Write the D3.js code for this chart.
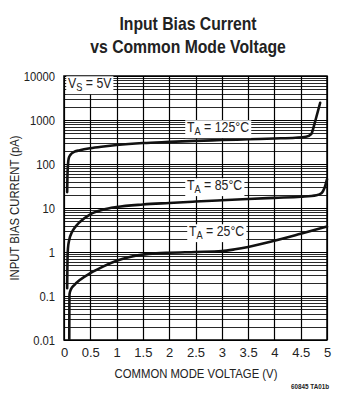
<!DOCTYPE html>
<html><head><meta charset="utf-8">
<script src="https://cdn.jsdelivr.net/npm/d3@7"></script>
<style>
html,body{margin:0;padding:0;background:#fff;}
svg{display:block;}
</style></head>
<body>
<script>
// ---- data ----
const xTicks = [0,0.5,1,1.5,2,2.5,3,3.5,4,4.5,5];
const xTickLabels = ["0","0.5","1","1.5","2","2.5","3","3.5","4","4.5","5"];
const yTicks = [0.01,0.1,1,10,100,1000,10000];
const yTickLabels = ["0.01","0.1","1","10","100","1000","10000"];
const seriesNames = ["TA = 125°C","TA = 85°C","TA = 25°C"];
const v125 = [[0.06,23],[0.065,50],[0.075,95],[0.09,135],[0.12,160],[0.2,190],[0.3,205],[0.5,228],[0.75,250],[1,270],[1.5,300],[2,318],[2.5,335],[3,350],[3.5,365],[4,380],[4.4,395],[4.6,415],[4.7,480],[4.76,800],[4.8,1200],[4.87,2450]];
const v85 = [[0.06,0.15],[0.065,0.5],[0.075,1.2],[0.1,1.9],[0.15,2.8],[0.2,3.5],[0.3,4.8],[0.5,7.2],[0.75,9.2],[1.0,10.5],[1.5,12],[2,13],[2.5,14],[3,15],[3.5,16],[4,17],[4.5,18],[4.8,19.5],[4.9,22],[4.95,28],[5.0,45]];
const v25 = [[0.1,0.01],[0.102,0.05],[0.105,0.11],[0.13,0.14],[0.2,0.18],[0.3,0.23],[0.5,0.33],[0.75,0.47],[1.0,0.63],[1.25,0.77],[1.5,0.87],[1.75,0.93],[2.0,0.96],[2.5,1.0],[3.0,1.05],[3.25,1.15],[3.5,1.3],[4.0,1.8],[4.5,2.6],[5.0,3.8]];

const W=339,H=393;
const m={l:64,t:76,r:12,b:53};
const pw=W-m.l-m.r, ph=H-m.t-m.b;
const font="'Liberation Sans',Arial,sans-serif";
const SX=0.88; // horizontal condensing

const svg=d3.select("body").append("svg").attr("width",W).attr("height",H);
const x=d3.scaleLinear().domain([0,5]).range([m.l,m.l+pw]);
const y=d3.scaleLog().domain([0.01,10000]).range([m.t+ph,m.t]);

function ctext(px,py,str,size,opts={}){
  const g=svg.append("g").attr("transform",`translate(${px},${py}) ${opts.rot?`rotate(${opts.rot})`:""} scale(${opts.sx||SX},1)`);
  return g.append("text").attr("x",0).attr("y",0).attr("text-anchor",opts.anchor||"middle")
    .attr("font-family",font).attr("font-size",size).attr("font-weight",opts.bold?"bold":"normal")
    .attr("fill","#222").text(str);
}

// title
ctext(188,30,"Input Bias Current",17.5,{bold:true,sx:0.9});
ctext(188,53,"vs Common Mode Voltage",17.5,{bold:true,sx:0.9});

// grid
const g=svg.append("g");
const minor=[];
for(let d=-2; d<4; d++) for(let k=2;k<10;k++) minor.push(k*Math.pow(10,d));
g.selectAll("line.mn").data(minor).join("line").attr("class","mn")
  .attr("x1",m.l).attr("x2",m.l+pw).attr("y1",d=>Math.round(y(d))+0.5).attr("y2",d=>Math.round(y(d))+0.5)
  .attr("stroke","#111").attr("stroke-width",0.9);
g.selectAll("line.mj").data(yTicks).join("line").attr("class","mj")
  .attr("x1",m.l).attr("x2",m.l+pw).attr("y1",d=>Math.round(y(d))+0.5).attr("y2",d=>Math.round(y(d))+0.5)
  .attr("stroke","#000").attr("stroke-width",1.2);
g.selectAll("line.vx").data(xTicks).join("line").attr("class","vx")
  .attr("y1",m.t).attr("y2",m.t+ph).attr("x1",d=>Math.round(x(d))+0.5).attr("x2",d=>Math.round(x(d))+0.5)
  .attr("stroke","#000").attr("stroke-width",1.2);
svg.append("rect").attr("x",m.l).attr("y",m.t).attr("width",pw).attr("height",ph)
  .attr("fill","none").attr("stroke","#000").attr("stroke-width",1.5);

// axes tick labels via d3 axes
const xAxis=d3.axisBottom(x).tickValues(xTicks).tickFormat((d,i)=>xTickLabels[i]).tickSize(0).tickPadding(8);
const ax=svg.append("g").attr("transform",`translate(0,${m.t+ph})`).call(xAxis);
ax.select(".domain").remove();
ax.selectAll("text").attr("font-family",font).attr("font-size",13).attr("fill","#222");
const yAxis=d3.axisLeft(y).tickValues(yTicks).tickFormat((d,i)=>yTickLabels[i]).tickSize(0).tickPadding(9);
const ay=svg.append("g").attr("transform",`translate(${m.l},0)`).call(yAxis);
ay.select(".domain").remove();
ay.selectAll("text").attr("font-family",font).attr("font-size",12.5).attr("fill","#222")
  .attr("transform","scale(0.9,1)").attr("x",-10);

ctext(196,378,"COMMON MODE VOLTAGE (V)",13,{sx:0.87});
ctext(19,m.t+ph/2,"INPUT BIAS CURRENT (pA)",13,{rot:-90,sx:0.87});
ctext(329,389,"60845 TA01b",7,{bold:true,anchor:"end",sx:0.9});

// curves
const line=d3.line().x(d=>x(d[0])).y(d=>y(d[1])).curve(d3.curveMonotoneX);
svg.append("defs").append("clipPath").attr("id","cp").append("rect")
  .attr("x",m.l).attr("y",m.t).attr("width",pw+4).attr("height",ph);
const cg=svg.append("g").attr("clip-path","url(#cp)");
[v125,v85,v25].forEach(s=>{
  cg.append("path").datum(s).attr("d",line).attr("fill","none").attr("stroke","#111")
    .attr("stroke-width",2.6).attr("stroke-linecap","round").attr("stroke-linejoin","round");
});

// label boxes
function boxLabel(xv, yv, main, sub, rest){
  const gg=svg.append("g").attr("transform",`translate(${xv},${yv}) scale(${SX},1)`);
  const t=gg.append("text").attr("font-family",font).attr("font-size",14).attr("fill","#222")
    .attr("x",0).attr("y",0);
  t.append("tspan").text(main);
  t.append("tspan").attr("font-size",10.5).attr("dy",3).text(sub);
  t.append("tspan").attr("dy",-3).text(rest);
  const bb=t.node().getBBox();
  gg.insert("rect",()=>t.node()).attr("x",bb.x-2).attr("y",bb.y+1).attr("width",bb.width+4).attr("height",bb.height)
    .attr("fill","#fff");
}
boxLabel(68,88,"V","S"," = 5V");
const lab=seriesNames.map(s=>s.slice(2));
boxLabel(187,132,"T","A",lab[0]);
boxLabel(187,190,"T","A",lab[1]);
boxLabel(189,236,"T","A",lab[2]);
</script>
</body></html>
